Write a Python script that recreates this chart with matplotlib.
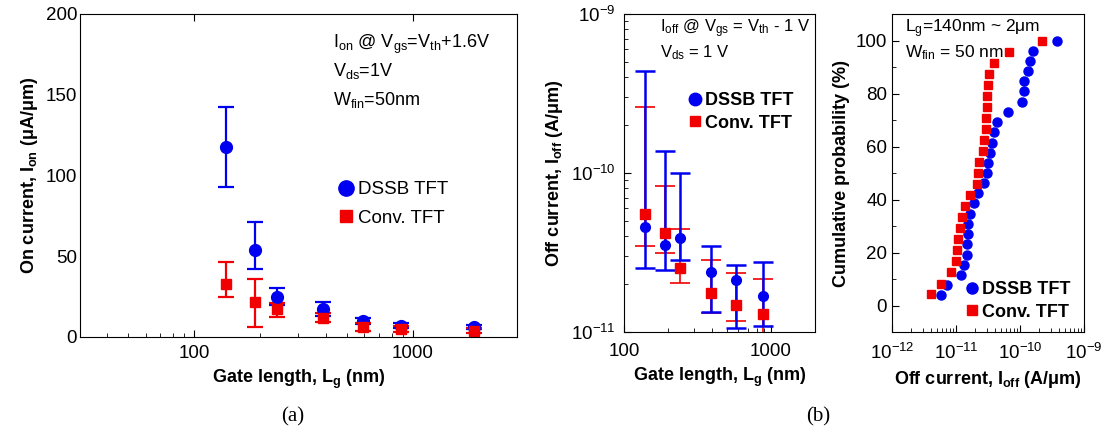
import matplotlib
matplotlib.use('Agg')
import matplotlib.pyplot as plt
from matplotlib.lines import Line2D
from matplotlib.ticker import LogLocator, MultipleLocator, NullFormatter

plt.rcParams['font.family'] = ['Liberation Sans', 'DejaVu Sans']
plt.rcParams['mathtext.fontset'] = 'custom'
plt.rcParams['mathtext.rm'] = 'Liberation Sans'
plt.rcParams['mathtext.it'] = 'Liberation Sans'
plt.rcParams['mathtext.bf'] = 'Liberation Sans:bold'
plt.rcParams['mathtext.default'] = 'regular'

# (a) on current vs gate length
lg_a = [140, 190, 240, 390, 590, 880, 1900]
ion_dssb = [117.8, 53.7, 24.6, 17.1, 10.0, 7.0, 6.4]
ion_dssb_lo = [93.0, 41.9, 20.0, 13.0, 8.0, 5.5, 5.0]
ion_dssb_hi = [142.4, 71.2, 30.1, 21.5, 12.0, 8.5, 7.5]
ion_conv = [32.6, 21.9, 17.5, 12.0, 6.4, 5.0, 4.0]
ion_conv_lo = [24.8, 6.0, 12.6, 9.0, 4.0, 3.0, 2.5]
ion_conv_hi = [46.2, 35.7, 21.0, 15.0, 8.5, 7.0, 5.5]

# (b) off current vs gate length
lg_b = [140, 190, 240, 390, 580, 880]
ioff_dssb = [4.55e-11, 3.54e-11, 3.9e-11, 2.4e-11, 2.11e-11, 1.68e-11]
ioff_dssb_lo = [2.52e-11, 2.47e-11, 2.85e-11, 1.33e-11, 1.06e-11, 1.09e-11]
ioff_dssb_hi = [4.4e-10, 1.38e-10, 1.0e-10, 3.45e-11, 2.65e-11, 2.77e-11]
ioff_conv = [5.55e-11, 4.19e-11, 2.52e-11, 1.76e-11, 1.48e-11, 1.29e-11]
ioff_conv_lo = [3.47e-11, 3.14e-11, 2.02e-11, 1.32e-11, 1.18e-11, 9.5e-12]
ioff_conv_hi = [2.6e-10, 8.3e-11, 4.45e-11, 2.82e-11, 2.35e-11, 2.16e-11]

# (b) cumulative probability of off current
cdf_dssb_x = [5.83e-12, 7.14e-12, 1.18e-11, 1.35e-11, 1.47e-11, 1.49e-11, 1.52e-11,
              1.56e-11, 1.66e-11, 1.91e-11, 2.23e-11, 2.74e-11, 3.05e-11, 3.13e-11,
              3.4e-11, 3.6e-11, 3.93e-11, 4.33e-11, 6.58e-11, 1.06e-10, 1.15e-10,
              1.17e-10, 1.35e-10, 1.43e-10, 1.61e-10, 3.74e-10]
cdf_dssb_y = [3.8, 7.7, 11.5, 15.4, 19.2, 23.1, 26.9, 30.8, 34.6, 38.5, 42.3, 46.2, 50.0,
              53.8, 57.7, 61.5, 65.4, 69.2, 73.1, 76.9, 80.8, 84.6, 88.5, 92.3, 96.2, 100.0]
cdf_conv_x = [4.02e-12, 5.9e-12, 8.36e-12, 9.9e-12, 1.03e-11, 1.06e-11, 1.15e-11,
              1.24e-11, 1.38e-11, 1.66e-11, 2.1e-11, 2.23e-11, 2.29e-11, 2.61e-11,
              2.74e-11, 2.94e-11, 2.97e-11, 3.02e-11, 3.09e-11, 3.2e-11, 3.24e-11,
              3.97e-11, 6.83e-11, 2.23e-10]
cdf_conv_y = [4.2, 8.3, 12.5, 16.7, 20.8, 25.0, 29.2, 33.3, 37.5, 41.7, 45.8, 50.0,
              54.2, 58.3, 62.5, 66.7, 70.8, 75.0, 79.2, 83.3, 87.5, 91.7, 95.8, 100.0]

blue = '#0000f0'
red = '#f00000'

fig = plt.figure(figsize=(11.03, 4.3), dpi=100)
ax1 = fig.add_axes([0.0725, 0.2163, 0.3962, 0.7512])
ax2 = fig.add_axes([0.5657, 0.2279, 0.1732, 0.7395])
ax3 = fig.add_axes([0.8087, 0.2279, 0.1741, 0.7395])


def errs(v, lo, hi):
    return [[a - b for a, b in zip(v, lo)], [c - a for a, c in zip(v, hi)]]


def handles(ms_o, ms_s):
    return [Line2D([], [], marker='o', ls='none', color=blue, ms=ms_o),
            Line2D([], [], marker='s', ls='none', color=red, ms=ms_s)]


# ---- (a)
ax1.errorbar(lg_a, ion_dssb, yerr=errs(ion_dssb, ion_dssb_lo, ion_dssb_hi), fmt='o',
             color=blue, ms=8.5, elinewidth=1.6, capsize=6, capthick=1.6)
ax1.errorbar(lg_a, ion_conv, yerr=errs(ion_conv, ion_conv_lo, ion_conv_hi), fmt='s',
             color=red, ms=7.5, elinewidth=1.6, capsize=6, capthick=1.6)
ax1.set_xscale('log')
ax1.set_xlim(30, 3000)
ax1.set_ylim(0, 200)
ax1.set_yticks([0, 50, 100, 150, 200])
ax1.set_xticks([100, 1000])
ax1.set_xticklabels(['100', '1000'])
ax1.xaxis.set_minor_locator(LogLocator(base=10, subs=range(2, 10)))
ax1.xaxis.set_minor_formatter(NullFormatter())
ax1.tick_params(axis='x', which='both', direction='in', top=True, labelsize=13.5, pad=6)
ax1.tick_params(axis='x', which='major', length=5)
ax1.tick_params(axis='x', which='minor', length=3, top=False)
ax1.tick_params(axis='y', length=0, labelsize=13.5, pad=2)
ax1.set_xlabel(r'Gate length, L$_\mathbf{g}$ (nm)', fontsize=13, fontweight='bold')
ax1.set_ylabel(r'On current, I$_\mathbf{on}$ (μA/μm)', fontsize=13, fontweight='bold')
ax1.text(0.58, 0.905, r'I$_{on}$ @ V$_{gs}$=V$_{th}$+1.6V', transform=ax1.transAxes,
         fontsize=13, va='center')
ax1.text(0.58, 0.822, r'V$_{ds}$=1V', transform=ax1.transAxes, fontsize=13, va='center')
ax1.text(0.58, 0.735, r'W$_{fin}$=50nm', transform=ax1.transAxes, fontsize=13, va='center')
ax1.legend(handles(11, 9), ['DSSB TFT', 'Conv. TFT'], loc='upper left',
           bbox_to_anchor=(0.545, 0.535), frameon=False, fontsize=13.5,
           handletextpad=0.05, labelspacing=0.6, handlelength=1.2)

# ---- (b) left
ax2.errorbar(lg_b, ioff_conv, yerr=errs(ioff_conv, ioff_conv_lo, ioff_conv_hi), fmt='s',
             color=red, ms=6.5, elinewidth=1.2, capsize=7, capthick=1.2)
ax2.errorbar(lg_b, ioff_dssb, yerr=errs(ioff_dssb, ioff_dssb_lo, ioff_dssb_hi), fmt='o',
             color=blue, ms=7, elinewidth=1.8, capsize=7, capthick=1.8)
ax2.set_xscale('log')
ax2.set_yscale('log')
ax2.set_xlim(100, 2000)
ax2.set_ylim(1e-11, 1e-9)
ax2.set_xticks([100, 1000])
ax2.set_xticklabels(['100', '1000'])
ax2.xaxis.set_minor_locator(LogLocator(base=10, subs=range(2, 10)))
ax2.xaxis.set_minor_formatter(NullFormatter())
ax2.set_yticks([1e-11, 1e-10, 1e-9])
ax2.set_yticklabels([r'10$^{-11}$', r'10$^{-10}$', r'10$^{-9}$'])
ax2.yaxis.set_minor_locator(LogLocator(base=10, subs=range(2, 10)))
ax2.yaxis.set_minor_formatter(NullFormatter())
ax2.tick_params(which='both', direction='in', labelsize=13.5)
ax2.tick_params(axis='x', pad=8)
ax2.tick_params(axis='y', pad=6)
ax2.tick_params(which='major', length=5)
ax2.tick_params(which='minor', length=3)
ax2.set_xlabel(r'Gate length, L$_\mathbf{g}$ (nm)', fontsize=13, fontweight='bold')
ax2.set_ylabel(r'Off current, I$_\mathbf{off}$ (A/μm)', fontsize=13, fontweight='bold')
ax2.text(0.19, 0.955, r'I$_{off}$ @ V$_{gs}$ = V$_{th}$ - 1 V', transform=ax2.transAxes,
         fontsize=12, va='center')
ax2.text(0.19, 0.88, r'V$_{ds}$ = 1 V', transform=ax2.transAxes, fontsize=12, va='center')
ax2.legend(handles(9, 7.5), ['DSSB TFT', 'Conv. TFT'], loc='upper left',
           bbox_to_anchor=(0.24, 0.805), frameon=False, prop={'size': 13, 'weight': 'bold'},
           handletextpad=0.05, labelspacing=0.3, handlelength=1.0)

# ---- (b) right
ax3.plot(cdf_dssb_x, cdf_dssb_y, 'o', color=blue, ms=6.5)
ax3.plot(cdf_conv_x, cdf_conv_y, 's', color=red, ms=5.5)
ax3.set_xscale('log')
ax3.set_xlim(1e-12, 1e-9)
ax3.set_ylim(-10, 110)
ax3.set_yticks([0, 20, 40, 60, 80, 100])
ax3.yaxis.set_minor_locator(MultipleLocator(10))
ax3.set_xticks([1e-12, 1e-11, 1e-10, 1e-9])
ax3.set_xticklabels([r'10$^{-12}$', r'10$^{-11}$', r'10$^{-10}$', r'10$^{-9}$'])
ax3.xaxis.set_minor_locator(LogLocator(base=10, subs=range(2, 10)))
ax3.xaxis.set_minor_formatter(NullFormatter())
ax3.tick_params(which='both', direction='in', labelsize=13.5)
ax3.tick_params(axis='x', pad=8)
ax3.tick_params(which='major', length=5)
ax3.tick_params(which='minor', length=3)
ax3.set_xlabel(r'Off current, I$_\mathbf{off}$ (A/μm)', fontsize=13, fontweight='bold')
ax3.set_ylabel('Cumulative probability (%)', fontsize=13, fontweight='bold')
ax3.text(0.07, 0.955, r'L$_g$=140nm ~ 2μm', transform=ax3.transAxes, fontsize=12.5,
         va='center')
ax3.text(0.07, 0.88, r'W$_{fin}$ = 50 nm', transform=ax3.transAxes, fontsize=12.5,
         va='center')
ax3.legend(handles(8, 6.5), ['DSSB TFT', 'Conv. TFT'], loc='lower left',
           bbox_to_anchor=(0.285, -0.015), frameon=False, prop={'size': 13, 'weight': 'bold'},
           handletextpad=0.05, labelspacing=0.3, handlelength=1.0)

fig.text(0.265, 0.03, '(a)', fontsize=15, family='Liberation Serif', ha='center',
         va='center')
fig.text(0.742, 0.03, '(b)', fontsize=15, family='Liberation Serif', ha='center',
         va='center')

fig.savefig('out.png', dpi=100)
